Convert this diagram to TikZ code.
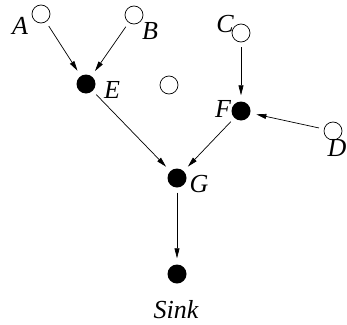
\documentclass[tikz,border=0pt]{standalone}
\usepackage{fontspec}
\setmainfont{Liberation Serif}
\usetikzlibrary{arrows.meta}
\begin{document}
\begin{tikzpicture}[x=1pt, y=-1pt,
    empty/.style={circle, draw, line width=0.7pt, minimum size=18pt, inner sep=0pt},
    full/.style={circle, fill, minimum size=19pt, inner sep=0pt},
    name label/.style={font=\fontsize{26}{28}\selectfont\itshape, inner sep=0pt},
    edge/.style={line width=0.7pt, -{Triangle[length=10pt, width=5pt]}, shorten <=5pt, shorten >=6pt}]
  \useasboundingbox (0,0) rectangle (347,324);
  % Nodes
  \node[empty] (A) at (41,14) {};
  \node[empty] (B) at (134,15) {};
  \node[empty] (C) at (241,33) {};
  \node[empty] (D) at (333,131) {};
  \node[empty] (X) at (169,85) {};
  \node[full] (E) at (86,84) {};
  \node[full] (F) at (241,111) {};
  \node[full] (G) at (177,178) {};
  \node[full] (S) at (177,274) {};
  % Labels
  \node[name label] (lA) at (20,26) {A};
  \node[name label] (lB) at (150,31) {B};
  \node[name label] (lC) at (225,24) {C};
  \node[name label] (lD) at (337,148) {D};
  \node[name label] (lE) at (112,90) {E};
  \node[name label] (lF) at (223,109) {F};
  \node[name label] (lG) at (199,184) {G};
  \node[name label] (lS) at (176,310) {Sink};
  % Edges
  \draw[edge] (A) -- (E);
  \draw[edge] (B) -- (E);
  \draw[edge] (C) -- (F);
  \draw[edge] (D) -- (F);
  \draw[edge] (E) -- (G);
  \draw[edge] (F) -- (G);
  \draw[edge] (G) -- (S);
\end{tikzpicture}
\end{document}
